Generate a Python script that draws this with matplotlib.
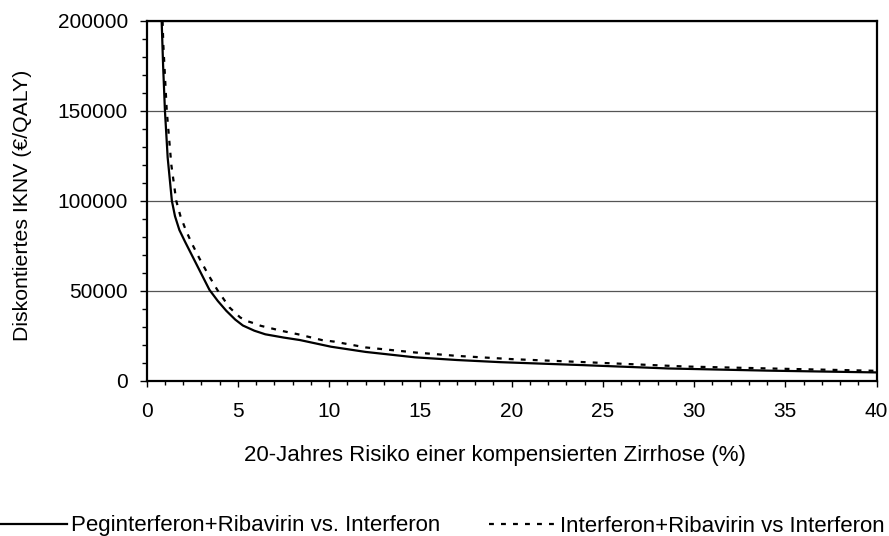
import matplotlib
matplotlib.use("Agg")
import matplotlib.pyplot as plt
from matplotlib.ticker import MultipleLocator

plt.rcParams['font.family'] = ['Liberation Sans', 'DejaVu Sans']

# Peginterferon+Ribavirin vs. Interferon (solid)
x_peg = [0.82, 0.9, 1.0, 1.15, 1.38, 1.55, 1.79, 2.1, 2.52, 3.0, 3.44, 3.9,
         4.36, 4.85, 5.27, 5.9, 6.5, 7.5, 8.4, 10.1, 12.0, 14.7, 17.0, 19.4,
         23.8, 28.6, 34.0, 40.0]
y_peg = [200000, 175000, 150000, 124000, 100000, 91500, 83800, 77300, 68900,
         59300, 50500, 44300, 38900, 34000, 30700, 27800, 25800, 24000, 22600,
         18900, 16000, 13000, 11500, 10300, 8700, 6800, 5600, 4600]

# Interferon+Ribavirin vs Interferon (dashed)
x_ifn = [0.87, 0.91, 1.10, 1.35, 1.62, 1.85, 2.16, 2.5, 2.89, 3.4, 3.90, 4.54,
         5.12, 5.45, 5.86, 6.26, 7.36, 8.3, 9.6, 10.3, 12.0, 14.7, 17.0, 20.0,
         23.8, 29.5, 35.0, 40.0]
y_ifn = [200000, 187000, 150000, 120000, 100000, 91500, 83300, 75800, 68000,
         58500, 50000, 40700, 35200, 33300, 32000, 30500, 27800, 25800, 22600,
         21700, 18500, 15700, 13800, 12000, 10400, 7900, 6600, 5500]

label_peg = "Peginterferon+Ribavirin vs. Interferon"
label_ifn = "Interferon+Ribavirin vs Interferon"
xlabel = "20-Jahres Risiko einer kompensierten Zirrhose (%)"
ylabel = "Diskontiertes IKNV (€/QALY)"

FS_TICK = 15
FS_LAB = 16
FS_YLAB = 15.3
FS_LEG = 16

fig = plt.figure(figsize=(8.89, 5.36), dpi=100)
W, H = 889, 536
L, R, T, B = 146.7, 876.5, 21, 380.7
ax = fig.add_axes([L / W, 1 - B / H, (R - L) / W, (B - T) / H])

l1, = ax.plot(x_peg, y_peg, color='black', lw=1.6, solid_joinstyle='round')
l2, = ax.plot(x_ifn, y_ifn, color='black', lw=1.6, linestyle=(0, (2.2, 3.2)))

ax.set_xlim(0, 40)
ax.set_ylim(0, 200000)
ax.xaxis.set_major_locator(MultipleLocator(5))
ax.xaxis.set_minor_locator(MultipleLocator(1))
ax.yaxis.set_major_locator(MultipleLocator(50000))
ax.yaxis.set_minor_locator(MultipleLocator(10000))

ax.grid(axis='y', which='major', color='#555555', lw=0.9)
ax.set_axisbelow(True)
for s in ax.spines.values():
    s.set_linewidth(1.6)
    s.set_color('black')

ax.tick_params(axis='both', which='both', direction='out', width=1.0,
               colors='black', labelsize=FS_TICK)
ax.tick_params(axis='x', which='major', length=4.5, pad=11)
ax.tick_params(axis='x', which='minor', length=3.0)
ax.tick_params(axis='y', which='major', length=5.0, pad=8.5)
ax.tick_params(axis='y', which='minor', length=3.5)

ax.set_xlabel(xlabel, fontsize=FS_LAB)
ax.xaxis.set_label_coords((495 - L) / (R - L), (B - 455) / (B - T))
ax.xaxis.label.set_va('center')
ax.set_ylabel(ylabel, fontsize=FS_YLAB)
ax.yaxis.set_label_coords((22 - L) / (R - L), (B - 205) / (B - T))
ax.yaxis.label.set_va('center')

fs_px = FS_LEG * 100 / 72
fig.legend([l1, l2], [label_peg, label_ifn], loc='center left',
           bbox_to_anchor=(0.0, 1 - 526 / H), ncol=2, frameon=False,
           fontsize=FS_LEG, borderpad=0, borderaxespad=0,
           handlelength=67 / fs_px, handletextpad=4 / fs_px,
           columnspacing=49 / fs_px)

fig.savefig("out.png", dpi=100)
